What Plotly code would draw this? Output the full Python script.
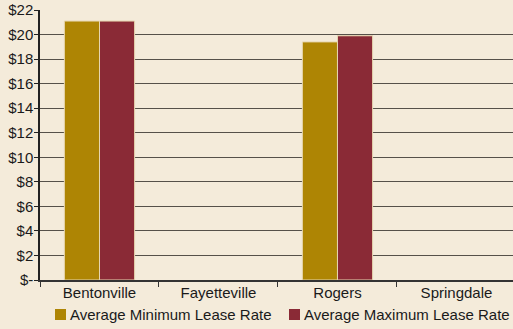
import plotly.graph_objects as go

# Average office lease rates by city ($ per sq ft)
cities = ["Bentonville", "Fayetteville", "Rogers", "Springdale"]
min_rate = [21.1, None, 19.4, None]
max_rate = [21.1, None, 19.9, None]

series_names = ["Average Minimum Lease Rate", "Average Maximum Lease Rate"]
series_colors = ["#AE8504", "#8A2A36"]

y_ticks = [0, 2, 4, 6, 8, 10, 12, 14, 16, 18, 20, 22]
y_labels = ["$-", "$2", "$4", "$6", "$8", "$10", "$12", "$14", "$16", "$18", "$20", "$22"]

W, H = 513, 329
BG = "#F4EBDA"
FONT = dict(family="Liberation Sans, Arial, sans-serif", size=15, color="#1a1a1a")

fig = go.Figure()
for name, color, vals in zip(series_names, series_colors, [min_rate, max_rate]):
    fig.add_trace(go.Bar(
        name=name, x=cities, y=vals,
        marker=dict(color=color, line=dict(color="#E6D6B0", width=1)),
    ))

# Legend drawn in paper pixels: swatch square followed by its label
legend_x = [55, 289]
legend_y = 314.5
for lx, name, color in zip(legend_x, series_names, series_colors):
    fig.add_shape(
        type="rect", xref="paper", yref="paper",
        x0=(lx - 40) / 473, x1=(lx + 11 - 40) / 473,
        y0=(280 - (legend_y - 5.5)) / 270, y1=(280 - (legend_y + 5.5)) / 270,
        fillcolor=color, line=dict(width=0),
    )
    fig.add_annotation(
        xref="paper", yref="paper",
        x=(lx + 13 - 40) / 473, y=(280 - legend_y) / 270,
        xanchor="left", yanchor="middle", showarrow=False,
        text=name, font=FONT,
    )

fig.update_layout(
    width=W, height=H,
    margin=dict(l=40, r=0, t=10, b=49, autoexpand=False),
    paper_bgcolor=BG, plot_bgcolor=BG,
    font=FONT,
    barmode="group", bargap=0.41, bargroupgap=0,
    showlegend=False,
    xaxis=dict(
        type="category", range=[-0.5, 3.475],
        showline=True, linecolor="#333333", linewidth=1.5,
        ticks="outside", tickson="boundaries", ticklen=5, tickcolor="#333333",
        ticklabelstandoff=-2,
        showgrid=False, tickfont=FONT,
    ),
    yaxis=dict(
        range=[0, 22], tickvals=y_ticks, ticktext=y_labels,
        showline=True, linecolor="#222222", linewidth=1.5,
        ticks="outside", ticklen=4, tickcolor="#222222",
        ticklabelstandoff=-2,
        showgrid=True, gridcolor="#555049", gridwidth=1,
        zeroline=False, tickfont=FONT,
    ),
)

fig.write_html("out.html")
